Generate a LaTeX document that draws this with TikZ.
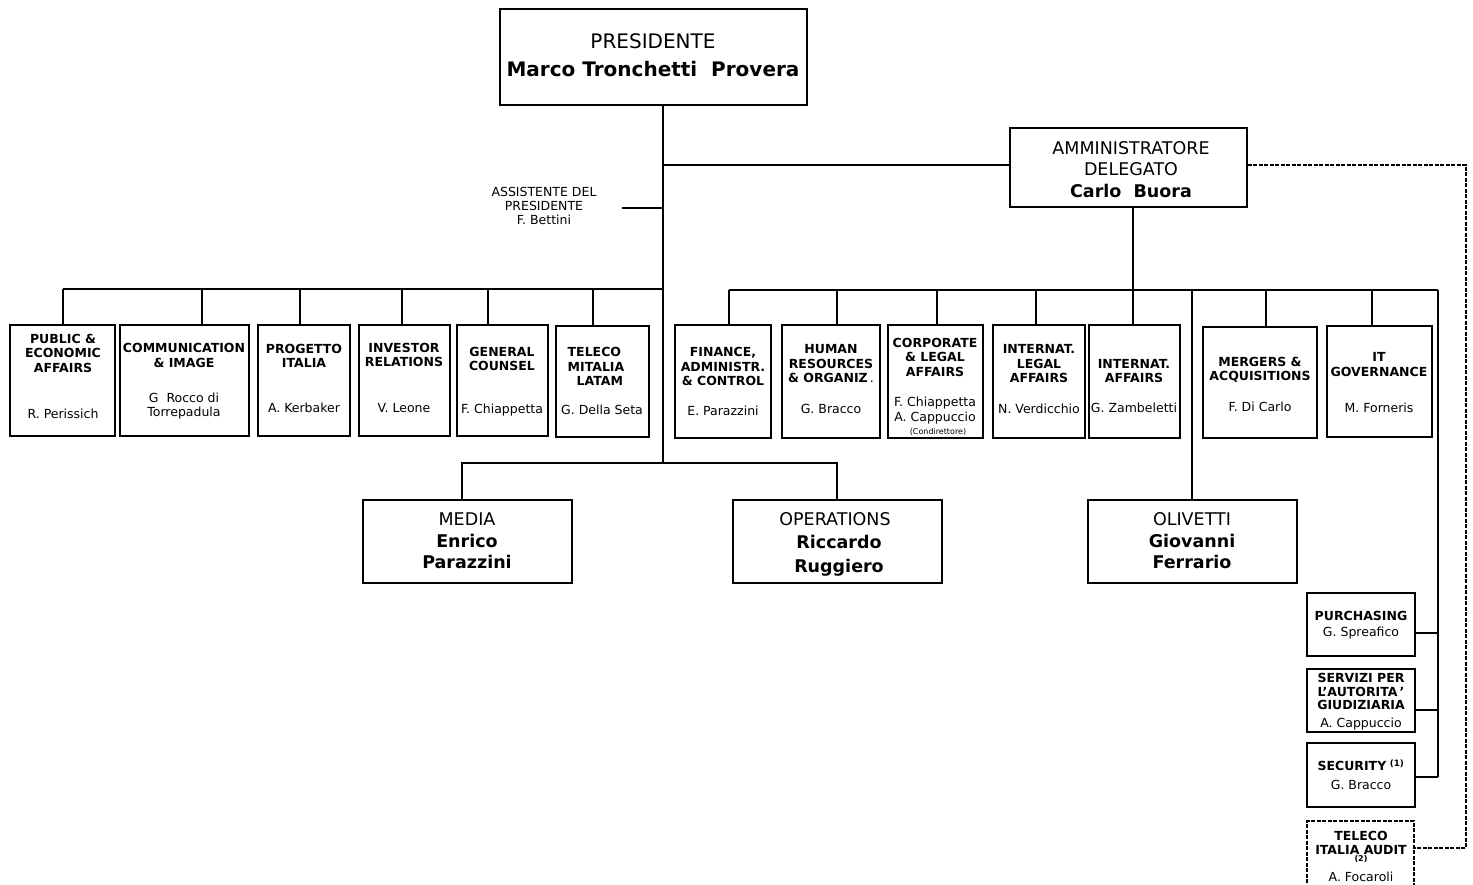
\documentclass[tikz,border=0pt]{standalone}
\usepackage{fontspec}
\setmainfont{DejaVu Sans}
\newcommand\ufficio[5]{\node[box,minimum width={#4-#2},minimum height={#5-#3}] (#1) at ({(#2+#4)/2},{(#3+#5)/2}) {};}
\begin{document}
\begin{tikzpicture}[x=1pt,y=-1pt,line width=1.3pt,
  box/.style={draw,inner sep=0pt},
  ttl/.style={font=\bfseries\fontsize{12.5}{14.5}\selectfont,align=center,inner sep=0pt},
  who/.style={font=\fontsize{12.5}{14.5}\selectfont,align=center,inner sep=0pt},
  big/.style={font=\fontsize{17.5}{21.5}\selectfont,align=center,inner sep=0pt},
  tratto/.style={dashed,dash pattern=on 4pt off 1.5pt,line width=1.1pt}]
\clip (0,0) rectangle (1473,884);
\fill[white] (0,0) rectangle (1473,884);
% vertici
\ufficio{pres}{500}{9}{807}{105}
\node[big,font=\fontsize{20}{24}\selectfont] (pres-t) at (653,41) {PRESIDENTE};
\node[big,font=\bfseries\fontsize{20}{24}\selectfont] (pres-n) at (653,69) {Marco Tronchetti\ \ Provera};
\ufficio{ad}{1010}{128}{1247}{207}
\node[big] (ad-t) at (1131,169.5) {AMMINISTRATORE\\DELEGATO\\\textbf{Carlo\ \ Buora}};
\node[font=\fontsize{12.5}{14}\selectfont,align=center,inner sep=0pt] (asst) at (544,206) {ASSISTENTE DEL\\PRESIDENTE\\F. Bettini};
% staff del presidente
\ufficio{pub}{10}{325}{115}{436}
\node[ttl] (pub-t) at (63,353) {PUBLIC \&\\ECONOMIC\\AFFAIRS};
\node[who] (pub-p) at (63,414) {R. Perissich};
\ufficio{com}{120}{325}{249}{436}
\node[ttl] (com-t) at (184,355.5) {COMMUNICATION\\\& IMAGE};
\node[who] (com-p) at (184,406) {G\ \ Rocco di\\Torrepadula};
\ufficio{prog}{258}{325}{350}{436}
\node[ttl] (prog-t) at (304,356) {PROGETTO\\ITALIA};
\node[who] (prog-p) at (304,408) {A. Kerbaker};
\ufficio{inv}{359}{325}{450}{436}
\node[ttl] (inv-t) at (404,355) {INVESTOR\\RELATIONS};
\node[who] (inv-p) at (404,408) {V. Leone};
\ufficio{gc}{457}{325}{548}{436}
\node[ttl] (gc-t) at (502,359) {GENERAL\\COUNSEL};
\node[who] (gc-p) at (502,410) {F. Chiappetta};
\ufficio{latam}{556}{326}{649}{437}
\node[ttl,align=left] (latam-t) at (596,366.5) {TELECO\\MITALIA\\\hspace{9pt}LATAM};
\node[who] (latam-p) at (602,410) {G. Della Seta};
% staff dell'AD
\ufficio{fin}{675}{325}{771}{438}
\node[ttl] (fin-t) at (723,366.5) {FINANCE,\\ADMINISTR.\\\& CONTROL};
\node[who] (fin-p) at (723,411) {E. Parazzini};
\ufficio{hr}{782}{325}{880}{438}
\node[ttl] (hr-t) at (831,364) {HUMAN\\RESOURCES\\\& ORGANIZ\,{\mdseries .}};
\node[who] (hr-p) at (831,409) {G.\ Bracco};
\ufficio{corp}{888}{325}{983}{438}
\node[ttl] (corp-t) at (935,357) {CORPORATE\\\& LEGAL\\AFFAIRS};
\node[who] (corp-p) at (935,410.5) {F. Chiappetta\\A. Cappuccio};
\node[who,font=\fontsize{8}{9}\selectfont] (corp-c) at (938,432) {(Condirettore)};
\ufficio{ilegal}{993}{325}{1085}{438}
\node[ttl] (ilegal-t) at (1039,364) {INTERNAT.\\LEGAL\\AFFAIRS};
\node[who] (ilegal-p) at (1039,409) {N. Verdicchio};
\ufficio{iaff}{1089}{325}{1180}{438}
\node[ttl] (iaff-t) at (1134,371) {INTERNAT.\\AFFAIRS};
\node[who] (iaff-p) at (1134,408) {G. Zambeletti};
\ufficio{merg}{1203}{327}{1317}{438}
\node[ttl] (merg-t) at (1260,370) {MERGERS \&\\ACQUISITIONS};
\node[who] (merg-p) at (1260,407) {F. Di Carlo};
\ufficio{itg}{1327}{326}{1432}{437}
\node[ttl] (itg-t) at (1379,364.5) {IT\\GOVERNANCE};
\node[who] (itg-p) at (1379,408) {M. Forneris};
% business unit
\ufficio{media}{363}{500}{572}{583}
\node[big] (media-t) at (467,541) {MEDIA\\\textbf{Enrico}\\\textbf{Parazzini}};
\ufficio{ops}{733}{500}{942}{583}
\node[big,font=\fontsize{17.5}{23.5}\selectfont] (ops-t) at (835,544) {OPERATIONS\\\hspace{8pt}\textbf{Riccardo}\\\hspace{8pt}\textbf{Ruggiero}};
\ufficio{oli}{1088}{500}{1297}{583}
\node[big] (oli-t) at (1192,541) {OLIVETTI\\\textbf{Giovanni}\\\textbf{Ferrario}};
% funzioni in basso
\ufficio{purch}{1307}{593}{1415}{656}
\node[ttl] (purch-t) at (1361,616) {PURCHASING};
\node[who] (purch-p) at (1361,633) {G. Spreafico};
\ufficio{serv}{1307}{669}{1415}{732}
\node[ttl,font=\bfseries\fontsize{12.5}{13.5}\selectfont] (serv-t) at (1361,691.5) {SERVIZI PER\\L’AUTORITA\,’\\GIUDIZIARIA};
\node[who] (serv-p) at (1361,724) {A. Cappuccio};
\ufficio{sec}{1307}{743}{1415}{807}
\node[ttl] (sec-t) at (1361,765) {SECURITY\,\textsuperscript{\,(1)}};
\node[who] (sec-p) at (1361,785) {G. Bracco};
\node[box,tratto,minimum width=107,minimum height=80] (audit) at (1360.5,861) {};
\node[ttl,font=\bfseries\fontsize{12.5}{14}\selectfont] (audit-t) at (1361,843) {TELECO\\ITALIA AUDIT};
\node[ttl,font=\bfseries\fontsize{8}{9}\selectfont] (audit-n) at (1361,859) {(2)};
\node[who] (audit-p) at (1361,877) {A. Focaroli};
% collegamenti
\coordinate (trunk) at (663,463);
\coordinate (lbar) at (663,289);
\coordinate (rbar) at (1133,290);
\coordinate (asst-e) at (622,208);
\coordinate (staff) at (1438,290);
\draw (pres.south -| trunk) -- (trunk);
\draw (ad.west |- 0,165) -- (trunk |- 0,165);
\draw (asst-e) -- (asst-e -| trunk);
\draw (63,289) -- (lbar);
\foreach \n/\x in {pub/63,com/202,prog/300,inv/402,gc/488,latam/593}
  \draw (\x,289) -- (\n.north -| \x,0);
\draw (media.north -| 462,0) -- (462,463) -- (837,463) -- (ops.north -| 837,0);
\draw (ad.south -| rbar) -- (rbar);
\draw (729,290) -- (staff);
\foreach \n/\x in {fin/729,hr/837,corp/937,ilegal/1036,iaff/1133,merg/1266,itg/1372}
  \draw (\x,290) -- (\n.north -| \x,0);
\draw (1192,290) -- (oli.north -| 1192,0);
\draw (staff) -- (1438,777);
\foreach \n/\y in {purch/633,serv/710,sec/777}
  \draw (\n.east |- 0,\y) -- (1438,\y);
\draw[tratto] (ad.east |- 0,165) -- (1466,165) -- (1466,848) -- (audit.east |- 0,848);
\end{tikzpicture}
\end{document}
